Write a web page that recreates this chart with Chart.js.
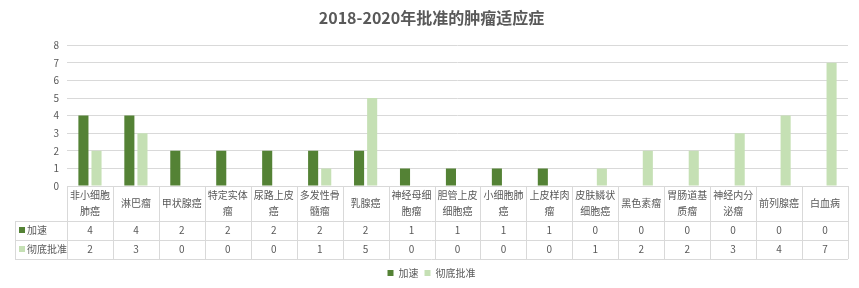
<!DOCTYPE html>
<html>
<head>
<meta charset="utf-8">
<script src="https://cdn.jsdelivr.net/npm/chart.js@4"></script>
<style>
  body { margin: 0; background: #fff; }
  #wrap { width: 859px; height: 288px; }
</style>
</head>
<body>
<div id="wrap"><canvas id="myChart"></canvas></div>
<script>
const categories = ["非小细胞肺癌", "淋巴瘤", "甲状腺癌", "特定实体瘤", "尿路上皮癌", "多发性骨髓瘤", "乳腺癌", "神经母细胞瘤", "胆管上皮细胞癌", "小细胞肺癌", "上皮样肉瘤", "皮肤鳞状细胞癌", "黑色素瘤", "胃肠道基质瘤", "神经内分泌瘤", "前列腺癌", "白血病"];
const accelerated = [4, 4, 2, 2, 2, 2, 2, 1, 1, 1, 1, 0, 0, 0, 0, 0, 0];
const fullApproval = [2, 3, 0, 0, 0, 1, 5, 0, 0, 0, 0, 1, 2, 2, 3, 4, 7];
const seriesNames = ["加速", "彻底批准"];
const colors = ["#548235", "#c5e0b4"];

const FONT = "'Noto Sans CJK SC', 'Noto Sans', sans-serif";
const TEXT = "#595959";
const LINE = "#d9d9d9";

// split long labels into lines of 4 chars like the excel table does
function wrap(label) {
  const out = [];
  for (let i = 0; i < label.length; i += 4) out.push(label.slice(i, i + 4));
  return out;
}

// data table under the plot, positioned from the x scale
const tablePlugin = {
  id: "dataTable",
  afterDraw(chart) {
    const ctx = chart.ctx;
    const xs = chart.scales.x;
    const area = chart.chartArea;
    const n = categories.length;
    const w = (area.right - area.left) / n;
    const top = area.bottom;
    const headH = 35, rowH = 19;
    const left = 15;
    const rows = [accelerated, fullApproval];
    const bottom = top + headH + rowH * rows.length;

    ctx.save();
    ctx.strokeStyle = LINE;
    ctx.lineWidth = 1;
    ctx.beginPath();
    // horizontal lines
    ctx.moveTo(area.left, Math.round(top) + 0.5);
    ctx.lineTo(area.right, Math.round(top) + 0.5);
    for (let r = 0; r <= rows.length; r++) {
      const y = Math.round(top + headH + rowH * r) + 0.5;
      ctx.moveTo(left, y);
      ctx.lineTo(area.right, y);
    }
    // vertical lines
    ctx.moveTo(left + 0.5, top + headH);
    ctx.lineTo(left + 0.5, bottom);
    for (let i = 0; i <= n; i++) {
      const x = Math.round(area.left + w * i) + 0.5;
      ctx.moveTo(x, top);
      ctx.lineTo(x, bottom);
    }
    ctx.stroke();

    ctx.fillStyle = TEXT;
    ctx.textAlign = "center";
    ctx.textBaseline = "middle";
    ctx.font = "10px " + FONT;
    categories.forEach((c, i) => {
      const cx = xs.getPixelForValue(i);
      const lines = wrap(c);
      const lh = 16;
      const y0 = top + headH / 2 - (lines.length - 1) * lh / 2;
      lines.forEach((l, k) => ctx.fillText(l, cx, y0 + k * lh));
      rows.forEach((vals, r) => {
        ctx.fillText(String(vals[i]), cx, top + headH + rowH * r + rowH / 2);
      });
    });

    // row headers with swatch
    ctx.textAlign = "left";
    rows.forEach((vals, r) => {
      const cy = top + headH + rowH * r + rowH / 2;
      ctx.fillStyle = colors[r];
      ctx.fillRect(left + 4, cy - 3.5, 6, 6);
      ctx.fillStyle = TEXT;
      ctx.fillText(seriesNames[r], left + 12, cy);
    });
    ctx.restore();
  }
};

new Chart(document.getElementById("myChart"), {
  type: "bar",
  data: {
    labels: categories,
    datasets: [
      { label: seriesNames[0], data: accelerated, backgroundColor: colors[0] },
      { label: seriesNames[1], data: fullApproval, backgroundColor: colors[1] },
    ],
  },
  options: {
    responsive: true,
    maintainAspectRatio: false,
    animation: false,
    categoryPercentage: 0.57,
    barPercentage: 0.77,
    layout: { padding: { left: 15, right: 11, top: 4, bottom: 0 } },
    plugins: {
      title: {
        display: true,
        text: "2018-2020年批准的肿瘤适应症",
        color: TEXT,
        font: { family: FONT, size: 16, weight: "bold" },
        padding: { top: 4, bottom: 18 },
      },
      legend: {
        position: "bottom",
        labels: {
          color: TEXT,
          font: { family: FONT, size: 10 },
          boxWidth: 6,
          boxHeight: 6,
          padding: 6,
        },
      },
      tooltip: { enabled: false },
    },
    scales: {
      x: {
        grid: { display: false },
        border: { display: false },
        ticks: { display: false },
        afterFit(a) { a.height = 76; },
      },
      y: {
        min: 0,
        max: 8,
        ticks: { stepSize: 1, color: TEXT, font: { family: FONT, size: 10 }, padding: 8 },
        grid: { color: LINE, drawTicks: false },
        border: { display: false },
        afterFit(a) { a.width = 52; },
      },
    },
  },
  plugins: [tablePlugin],
});
</script>
</body>
</html>
